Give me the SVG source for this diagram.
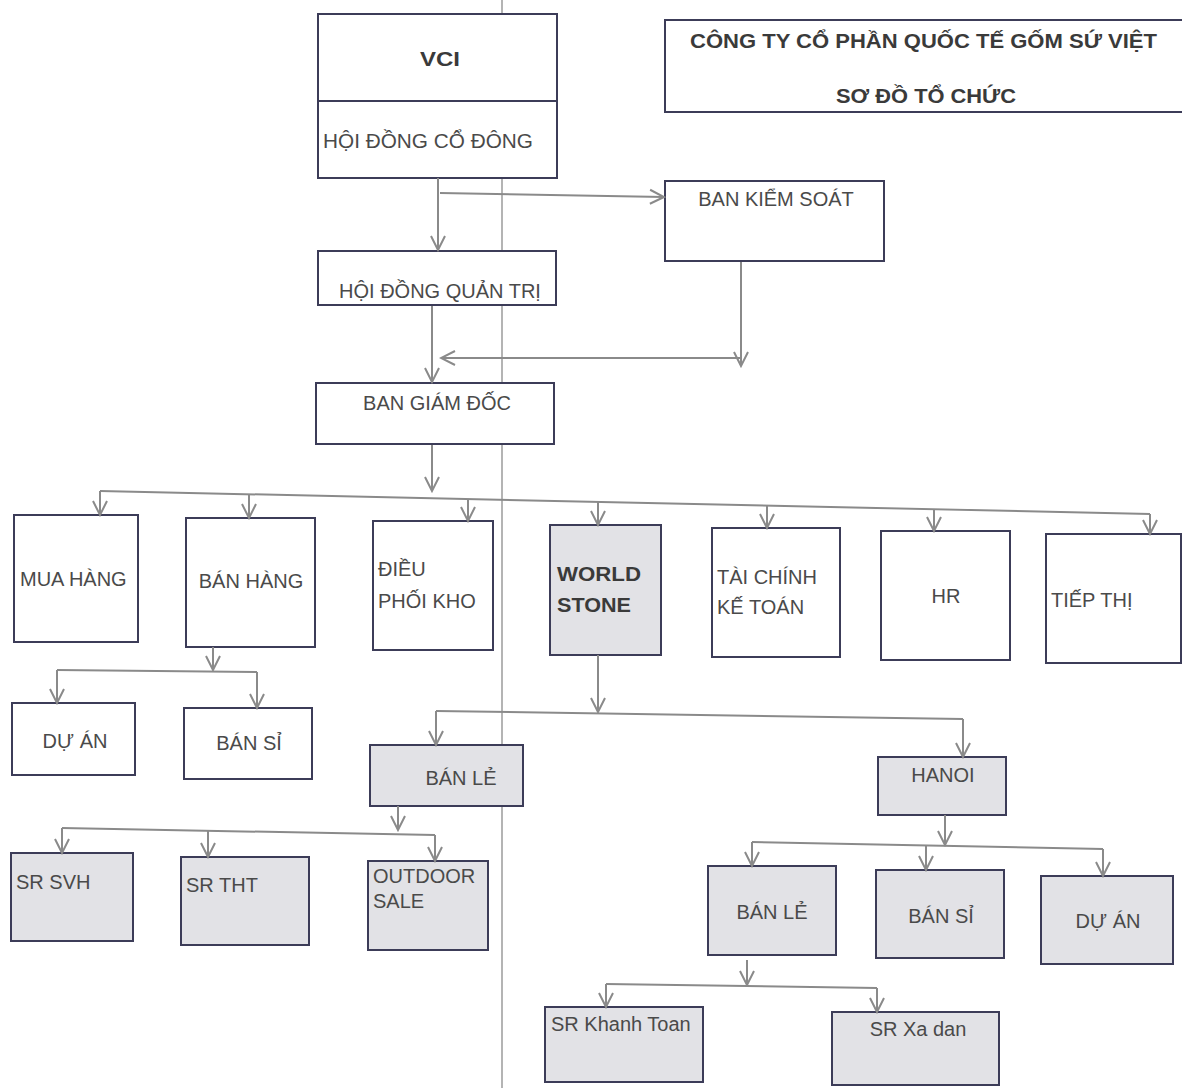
<svg xmlns="http://www.w3.org/2000/svg" width="1182" height="1088" viewBox="0 0 1182 1088">
<defs>
<style>
.box{fill:#ffffff;stroke:#3c3c58;stroke-width:2}
.gbox{fill:#e2e2e6;stroke:#3c3c58;stroke-width:2}
.t{font-family:"Liberation Sans","DejaVu Sans",sans-serif;font-size:20px;fill:#4a4a4a}
.c{text-anchor:middle}
.b{font-weight:bold;fill:#3a3a3a}
.con path{fill:none;stroke:#8a8a8a;stroke-width:2}
</style>
<marker id="ah" viewBox="-16 -9 18 18" refX="0" refY="0" markerWidth="18" markerHeight="18" markerUnits="userSpaceOnUse" orient="auto">
<path d="M-14,-7 L0,0 L-14,7" fill="none" stroke="#8a8a8a" stroke-width="2"/>
</marker>
</defs>
<rect width="1182" height="1088" fill="#ffffff"/>
<line x1="502" y1="0" x2="502" y2="1088" stroke="#b4b4b4" stroke-width="2"/>

<g id="title">
<rect class="box" x="665" y="20" width="518" height="92"/>
<text class="t b" x="690" y="48" font-size="21" textLength="467" lengthAdjust="spacingAndGlyphs">CÔNG TY CỔ PHẦN QUỐC TẾ GỐM SỨ VIỆT</text>
<text class="t b" x="836" y="103" font-size="21" textLength="180" lengthAdjust="spacingAndGlyphs">SƠ ĐỒ TỔ CHỨC</text>
</g>

<g id="vci">
<rect class="box" x="318" y="14" width="239" height="164"/>
<line x1="318" y1="101" x2="557" y2="101" stroke="#3c3c58" stroke-width="2"/>
<text class="t c b" x="440" y="66" font-size="22" textLength="40" lengthAdjust="spacingAndGlyphs">VCI</text>
<text class="t" x="323" y="148" textLength="210" lengthAdjust="spacingAndGlyphs">HỘI ĐỒNG CỔ ĐÔNG</text>
</g>

<g id="ban-kiem-soat">
<rect class="box" x="665" y="181" width="219" height="80"/>
<text class="t c" x="776" y="206">BAN KIỂM SOÁT</text>
</g>

<g id="hdqt">
<rect class="box" x="318" y="251" width="238" height="54"/>
<text class="t c" x="440" y="298">HỘI ĐỒNG QUẢN TRỊ</text>
</g>

<g id="bgd">
<rect class="box" x="316" y="383" width="238" height="61"/>
<text class="t c" x="437" y="410">BAN GIÁM ĐỐC</text>
</g>

<g id="mua-hang">
<rect class="box" x="14" y="515" width="124" height="127"/>
<text class="t" x="20" y="586">MUA HÀNG</text>
</g>
<g id="ban-hang">
<rect class="box" x="186" y="518" width="129" height="129"/>
<text class="t c" x="251" y="588">BÁN HÀNG</text>
</g>
<g id="dieu-phoi-kho">
<rect class="box" x="373" y="521" width="120" height="129"/>
<text class="t" x="378" y="576">ĐIỀU</text>
<text class="t" x="378" y="608">PHỐI KHO</text>
</g>
<g id="world-stone">
<rect class="gbox" x="550" y="525" width="111" height="130"/>
<text class="t b" x="557" y="581" font-size="21" textLength="84" lengthAdjust="spacingAndGlyphs">WORLD</text>
<text class="t b" x="557" y="612" font-size="21" textLength="74" lengthAdjust="spacingAndGlyphs">STONE</text>
</g>
<g id="tai-chinh">
<rect class="box" x="712" y="528" width="128" height="129"/>
<text class="t" x="717" y="584">TÀI CHÍNH</text>
<text class="t" x="717" y="614">KẾ TOÁN</text>
</g>
<g id="hr">
<rect class="box" x="881" y="531" width="129" height="129"/>
<text class="t c" x="946" y="603">HR</text>
</g>
<g id="tiep-thi">
<rect class="box" x="1046" y="534" width="135" height="129"/>
<text class="t" x="1051" y="607">TIẾP THỊ</text>
</g>

<g id="du-an">
<rect class="box" x="12" y="703" width="123" height="72"/>
<text class="t c" x="75" y="748">DỰ ÁN</text>
</g>
<g id="ban-si">
<rect class="box" x="184" y="708" width="128" height="71"/>
<text class="t c" x="249" y="750">BÁN SỈ</text>
</g>
<g id="ban-le-ws">
<rect class="gbox" x="370" y="745" width="153" height="61"/>
<text class="t c" x="461" y="785">BÁN LẺ</text>
</g>
<g id="hanoi">
<rect class="gbox" x="878" y="757" width="128" height="58"/>
<text class="t c" x="943" y="782">HANOI</text>
</g>

<g id="sr-svh">
<rect class="gbox" x="11" y="853" width="122" height="88"/>
<text class="t" x="16" y="889">SR SVH</text>
</g>
<g id="sr-tht">
<rect class="gbox" x="181" y="857" width="128" height="88"/>
<text class="t" x="186" y="892">SR THT</text>
</g>
<g id="outdoor-sale">
<rect class="gbox" x="368" y="861" width="120" height="89"/>
<text class="t" x="373" y="883" font-size="18">OUTDOOR</text>
<text class="t" x="373" y="908" font-size="18">SALE</text>
</g>

<g id="ban-le-hn">
<rect class="gbox" x="708" y="866" width="128" height="89"/>
<text class="t c" x="772" y="919">BÁN LẺ</text>
</g>
<g id="ban-si-hn">
<rect class="gbox" x="876" y="870" width="128" height="88"/>
<text class="t c" x="941" y="923">BÁN SỈ</text>
</g>
<g id="du-an-hn">
<rect class="gbox" x="1041" y="876" width="132" height="88"/>
<text class="t c" x="1108" y="928">DỰ ÁN</text>
</g>

<g id="sr-khanh-toan">
<rect class="gbox" x="545" y="1007" width="158" height="75"/>
<text class="t" x="551" y="1031">SR Khanh Toan</text>
</g>
<g id="sr-xa-dan">
<rect class="gbox" x="832" y="1012" width="167" height="73"/>
<text class="t c" x="918" y="1036">SR Xa dan</text>
</g>

<g id="connectors" class="con">
<path d="M438,178 L438,250" marker-end="url(#ah)"/>
<path d="M440,193 L664,197" marker-end="url(#ah)"/>
<path d="M432,306 L432,382" marker-end="url(#ah)"/>
<path d="M741,262 L741,366" marker-end="url(#ah)"/>
<path d="M740,358 L441,358" marker-end="url(#ah)"/>
<path d="M432,445 L432,491" marker-end="url(#ah)"/>
<path d="M100,491 L1150,514"/>
<path d="M100,491 L100,515" marker-end="url(#ah)"/>
<path d="M249,494 L249,518" marker-end="url(#ah)"/>
<path d="M468,499 L468,521" marker-end="url(#ah)"/>
<path d="M598,502 L598,525" marker-end="url(#ah)"/>
<path d="M767,506 L767,528" marker-end="url(#ah)"/>
<path d="M934,509 L934,531" marker-end="url(#ah)"/>
<path d="M1150,514 L1150,534" marker-end="url(#ah)"/>
<path d="M213,647 L213,670" marker-end="url(#ah)"/>
<path d="M57,670 L257,672"/>
<path d="M57,670 L57,703" marker-end="url(#ah)"/>
<path d="M257,672 L257,708" marker-end="url(#ah)"/>
<path d="M598,655 L598,712" marker-end="url(#ah)"/>
<path d="M436,711 L963,719"/>
<path d="M436,711 L436,745" marker-end="url(#ah)"/>
<path d="M963,719 L963,757" marker-end="url(#ah)"/>
<path d="M398,806 L398,830" marker-end="url(#ah)"/>
<path d="M62,828 L435,835"/>
<path d="M62,828 L62,853" marker-end="url(#ah)"/>
<path d="M208,831 L208,857" marker-end="url(#ah)"/>
<path d="M435,835 L435,861" marker-end="url(#ah)"/>
<path d="M945,815 L945,845" marker-end="url(#ah)"/>
<path d="M752,842 L1103,849"/>
<path d="M752,842 L752,866" marker-end="url(#ah)"/>
<path d="M926,846 L926,870" marker-end="url(#ah)"/>
<path d="M1103,849 L1103,876" marker-end="url(#ah)"/>
<path d="M747,960 L747,985" marker-end="url(#ah)"/>
<path d="M606,984 L877,988"/>
<path d="M606,984 L606,1007" marker-end="url(#ah)"/>
<path d="M877,988 L877,1012" marker-end="url(#ah)"/>
</g>
</svg>
